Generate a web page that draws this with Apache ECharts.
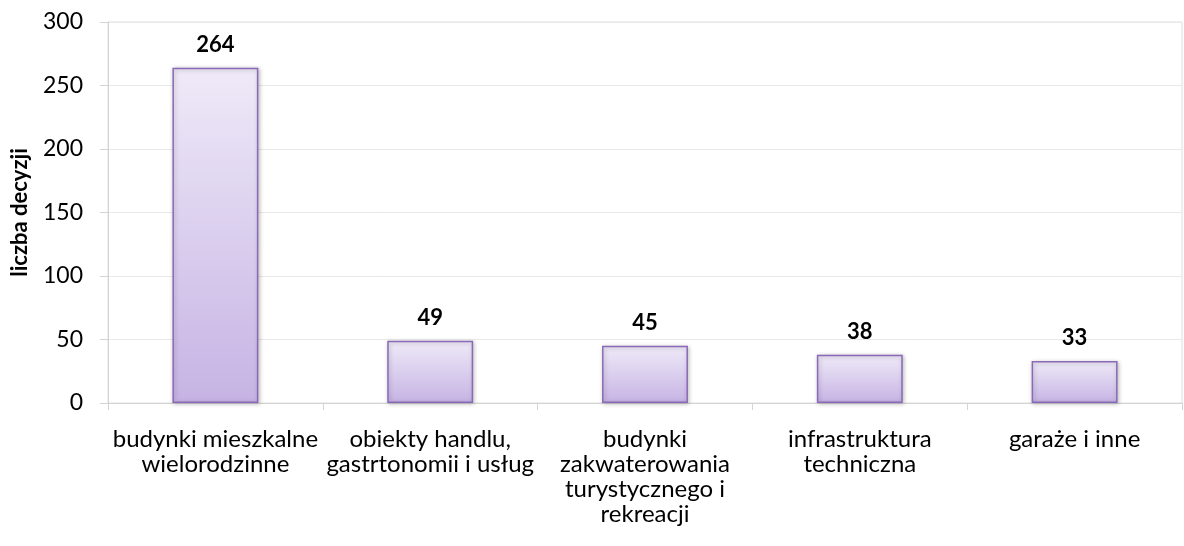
<!DOCTYPE html>
<html>
<head>
<meta charset="utf-8">
<script src="https://cdn.jsdelivr.net/npm/echarts@6/dist/echarts.min.js"></script>
<style>
html,body{margin:0;padding:0;background:#fff;}
#chart{width:1184px;height:546px;}
</style>
</head>
<body>
<div id="chart"></div>
<script>
var categories = [
  "budynki mieszkalne\nwielorodzinne",
  "obiekty handlu,\ngastrtonomii i usług",
  "budynki\nzakwaterowania\nturystycznego i\nrekreacji",
  "infrastruktura\ntechniczna",
  "garaże i inne"
];
var values = [264, 49, 45, 38, 33];
var yTicks = { min: 0, max: 300, interval: 50 };
var yName = "liczba decyzji";

var font = "Lato, 'Open Sans', sans-serif";
var myChart = echarts.init(document.getElementById('chart'));

// wypełnienie słupka - gradient od jasnego do ciemniejszego fioletu
var barFill = new echarts.graphic.LinearGradient(0, 0, 0, 1, [
  { offset: 0, color: '#efeaf8' },
  { offset: 1, color: '#c6b3e4' }
]);

var option = {
  animation: false,
  backgroundColor: '#fff',
  grid: {
    left: 108, right: 2, top: 22, bottom: 143,
    show: true, borderColor: '#dedede', borderWidth: 1
  },
  xAxis: {
    type: 'category',
    data: categories,
    axisLine: { lineStyle: { color: '#d4d4d4', width: 1 } },
    axisTick: { show: true, length: 7, lineStyle: { color: '#d4d4d4' } },
    axisLabel: {
      color: '#000', fontSize: 24, fontFamily: font,
      lineHeight: 25, margin: 24, interval: 0
    }
  },
  yAxis: {
    type: 'value',
    min: yTicks.min, max: yTicks.max, interval: yTicks.interval,
    name: yName,
    nameLocation: 'middle',
    nameGap: 77,
    nameTextStyle: { color: '#000', fontSize: 22, fontWeight: 'bold', fontFamily: font },
    axisLine: { show: true, lineStyle: { color: '#d4d4d4', width: 1 } },
    axisTick: { show: true, length: 8, lineStyle: { color: '#d4d4d4' } },
    axisLabel: { color: '#000', fontSize: 23, fontFamily: font, margin: 25 },
    splitLine: { show: true, lineStyle: { color: '#e9e9e9', width: 1 } }
  },
  series: [{
    type: 'bar',
    data: values,
    barWidth: '40%',
    itemStyle: {
      color: barFill,
      borderColor: '#8a6ab8',
      borderWidth: 1.5,
      shadowBlur: 4,
      shadowColor: 'rgba(0,0,0,0.25)',
      shadowOffsetX: 1,
      shadowOffsetY: 1
    },
    label: {
      show: true,
      position: 'top',
      distance: 12,
      color: '#000',
      fontSize: 22,
      fontWeight: 'bold',
      fontFamily: font
    }
  }]
};
myChart.setOption(option);
</script>
</body>
</html>
